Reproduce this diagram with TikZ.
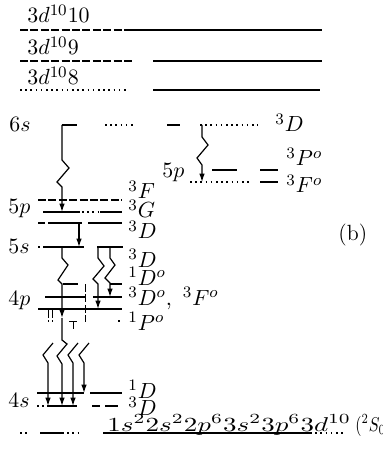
\documentclass[tikz,border=0pt]{standalone}
\usepackage{graphicx}
\usetikzlibrary{arrows.meta}
\begin{document}
\begin{tikzpicture}[x=0.5pt,y=-0.5pt,
  lev/.style={line width=0.7pt},
  dl/.style={lev,dash pattern=on 4pt off 1.2pt},
  dt/.style={lev,dash pattern=on 0.8pt off 1.8pt},
  tr/.style={line width=0.6pt,-{Latex[length=4.2pt,width=2.8pt]}},
  lab/.style={anchor=base west,inner sep=0pt,font=\fontsize{11}{13}\selectfont}]
\useasboundingbox (0,0) rectangle (383,458);

% ---- top block
\node[lab] (d10) at (27,23) {$3d^{10}10$};
\node[lab] (d9) at (27,55) {$3d^{10}9$};
\node[lab] (d8) at (27,85) {$3d^{10}8$};
\draw[dl] (20,30) -- (130,30);
\draw[lev] (130,30) -- (322,30);
\draw[dl] (20,61) -- (133,61);
\draw[lev] (153,61) -- (322,61);
\draw[dt] (20,90) -- (127,90);
\draw[lev] (153,90) -- (320,90);

% ---- 6s
\node[lab] (l6s) at (9,132) {$6s$};
\node[lab] (l6sD) at (275,132) {$^3D$};
\draw[lev] (62,125) -- (77,125);
\draw[dt] (105,125) -- (133,125);
\draw[lev] (167,125) -- (180,125);
\draw[dt] (200,125) -- (258,125);

% ---- right 5p
\node[lab] (l5pr) at (162,178) {$5p$};
\node[lab] (l3Po) at (286,166) {$^3P^o$};
\node[lab] (l3Fo) at (286,193) {$^3F^o$};
\draw[lev] (212,170) -- (237,170);
\draw[lev] (260,170) -- (278,170);
\draw[dt] (190,182) -- (250,182);
\draw[lev] (260,182) -- (278,182);

% ---- left 5p
\node[lab] (l5p) at (8,214) {$5p$};
\node[lab] (l3F) at (128,199) {$^3F$};
\node[lab] (l3G) at (128,218) {$^3G$};
\node[lab] (l3D5p) at (128,239) {$^3D$};
\draw[dl] (38,200) -- (122,200);
\draw[lev] (43,212) -- (80,212);
\draw[dt] (82,212) -- (98,212);
\draw[lev] (100,212) -- (122,212);
\draw[lev] (38,223) -- (45,223);
\draw[lev] (48,223) -- (82,223);
\draw[lev] (88,223) -- (122,223);

% ---- 5s
\node[lab] (l5s) at (8,253) {$5s$};
\node[lab] (l3D5s) at (128,267) {$^3D$};
\node[lab] (lb) at (338,241) {(b)};
\draw[dt] (38,247) -- (45,247);
\draw[lev] (45,247) -- (84,247);
\draw[lev] (97,247) -- (123,247);

% ---- 4p
\node[lab] (l4p) at (8,305) {$4p$};
\node[lab] (l1Do) at (128,285) {$^1D^o$};
\node[lab] (l3DFo) at (128,305) {$^3D^o,\ {}^3F^o$};
\node[lab] (l1Po) at (128,330) {$^1P^o$};
\draw[lev] (63,284) -- (78,284);
\draw[lev] (110,284) -- (122,284);
\draw[lev] (45,297) -- (85,297);
\draw[lev] (93,297) -- (122,297);
\draw[lev] (38,309) -- (122,309);
\draw[dl,line width=0.45pt] (85,284) -- (85,322);
\draw[dl,line width=0.45pt] (48,310) -- (48,322);
\draw[dl,line width=0.45pt] (52,310) -- (52,322);
\draw[line width=0.45pt] (69,321) -- (77,321) (73,321) -- (73,329);
\draw[dt] (118,321) -- (121,321);

% ---- 4s
\node[lab] (l4s) at (8,407) {$4s$};
\node[lab] (l1D) at (128,398) {$^1D$};
\node[lab] (l3D4s) at (128,415) {$^3D$};
\draw[lev] (37,393) -- (84,393);
\draw[lev] (90,393) -- (122,393);
\draw[dt] (37,406) -- (45,406);
\draw[lev] (47,406) -- (77,406);
\draw[lev] (92,406) -- (100,406);
\draw[lev] (105,406) -- (118,406);

% ---- ground state
\node[lab] (gs) at (107,431) {\scalebox{1.35}[1]{\fontsize{10}{12}\selectfont$1s^2 2s^2 2p^6 3s^2 3p^6 3d^{10}$}};
\node[lab] (gsS) at (355,431) {\scalebox{0.8}[1]{\fontsize{10}{12}\selectfont$({}^2S_0)$}};
\draw[dt] (20,433) -- (30,433);
\draw[lev] (40,433) -- (62,433);
\draw[dt] (62,433) -- (78,433);
\draw[lev] (103,433) -- (310,433);
\draw[dt] (310,433) -- (345,433);

% ---- transitions
\coordinate (s6a) at (62,125); \coordinate (p5G) at (62,212);
\draw[tr] (s6a) -- (62,160) -- ++(7,8) -- ++(-12,14) -- ++(5,5) -- (p5G);
\coordinate (s6b) at (202,125); \coordinate (p5Fo) at (202,182);
\draw[tr] (s6b) -- (202,137) -- ++(6,8) -- ++(-11,13) -- ++(5,7) -- (p5Fo);
\coordinate (p5D) at (79,223); \coordinate (s5a) at (79,247);
\draw[tr] (p5D) -- (s5a);
\coordinate (s5b) at (62,247); \coordinate (p4P) at (62,318);
\draw[tr] (s5b) -- (62,258) -- ++(6,7) -- ++(-10,15) -- ++(4,4) -- (p4P);
\coordinate (s5c) at (98,247); \coordinate (p4l) at (98,309);
\draw[tr] (s5c) -- (98,258) -- ++(6,8) -- ++(-11,13) -- ++(5,5) -- (p4l);
\coordinate (s5d) at (110,247); \coordinate (p4m) at (110,297);
\draw[tr] (s5d) -- (110,258) -- ++(5,7) -- ++(-10,13) -- ++(5,5) -- (p4m);
\coordinate (q1) at (53,343); \coordinate (f1) at (48,406);
\draw[tr] (q1) -- ++(-10,12) -- ++(5,8) -- (f1);
\coordinate (q2) at (62,318); \coordinate (f2) at (62,406);
\draw[tr] (q2) -- (62,340) -- ++(5,4) -- ++(-10,12) -- ++(5,8) -- (f2);
\coordinate (q3) at (78,343); \coordinate (f3) at (73,406);
\draw[tr] (q3) -- ++(-10,12) -- ++(5,8) -- (f3);
\coordinate (q4) at (89,343); \coordinate (f4) at (84,393);
\draw[tr] (q4) -- ++(-10,12) -- ++(5,8) -- (f4);
\end{tikzpicture}
\end{document}
